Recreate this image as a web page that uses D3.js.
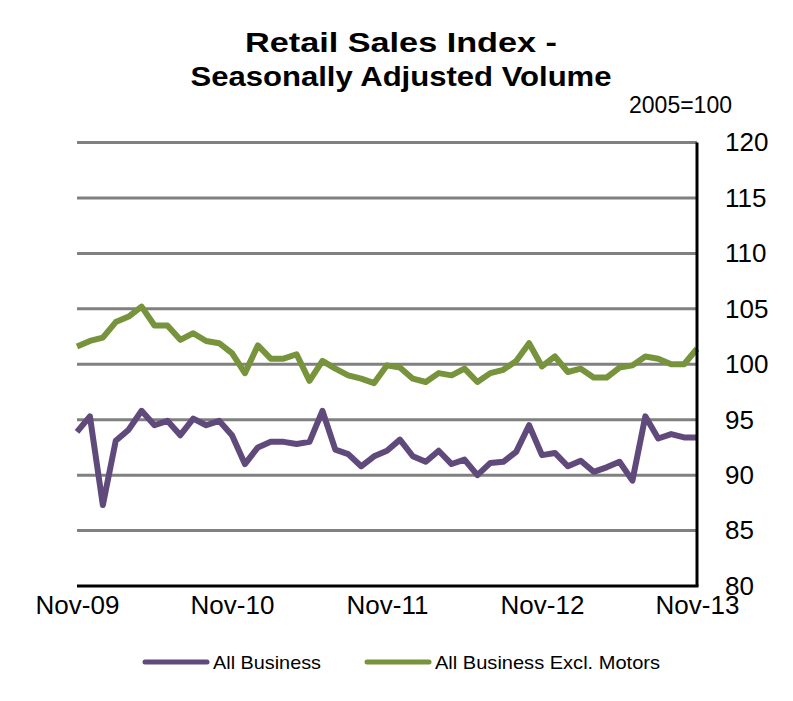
<!DOCTYPE html>
<html>
<head>
<meta charset="utf-8">
<script src="https://cdn.jsdelivr.net/npm/d3@7"></script>
<style>
  body { margin: 0; background: #fff; }
  svg text { font-family: "Liberation Sans", Arial, sans-serif; fill: #000; }
</style>
</head>
<body>
<div id="chart"></div>
<script>
// monthly index, Nov-09 .. Nov-13 (2005=100)
var allBusiness = [
    93.9, 95.3, 87.3, 93.1, 94.1, 95.8, 94.5, 94.9, 93.6, 95.1, 94.5, 94.9,
    93.6, 91.0, 92.5, 93.0, 93.0, 92.8, 93.0, 95.8, 92.3, 91.9, 90.8, 91.7,
    92.2, 93.2, 91.7, 91.2, 92.2, 91.0, 91.4, 90.0, 91.1, 91.2, 92.1, 94.5,
    91.8, 92.0, 90.8, 91.3, 90.3, 90.7, 91.2, 89.5, 95.3, 93.3, 93.7, 93.4,
    93.4
];
var exclMotors = [
    101.6, 102.1, 102.4, 103.8, 104.3, 105.2, 103.5, 103.5, 102.2, 102.8, 102.1, 101.9,
    101.0, 99.2, 101.7, 100.5, 100.5, 100.9, 98.5, 100.3, 99.6, 99.0, 98.7, 98.3,
    99.9, 99.7, 98.7, 98.4, 99.2, 99.0, 99.6, 98.4, 99.2, 99.5, 100.3, 101.9,
    99.8, 100.7, 99.3, 99.6, 98.8, 98.8, 99.7, 99.9, 100.7, 100.5, 100.0, 100.0,
    101.4
];
var xTickLabels = ['Nov-09', 'Nov-10', 'Nov-11', 'Nov-12', 'Nov-13'];
var xTickIndex = [0, 12, 24, 36, 48];
var yTicks = [80, 85, 90, 95, 100, 105, 110, 115, 120];
var seriesNames = ['All Business', 'All Business Excl. Motors'];
var seriesColors = ['#604a7b', '#77933c'];

var width = 793, height = 701;
var plotLeft = 77, plotRight = 697, plotTop = 142.5, plotBottom = 586;

var svg = d3.select('#chart').append('svg')
    .attr('width', width)
    .attr('height', height);

var x = d3.scaleLinear().domain([0, 48]).range([plotLeft, plotRight]);
var y = d3.scaleLinear().domain([80, 120]).range([plotBottom, plotTop]);

// title (Excel renders it a little wider than Liberation, so stretch to fit)
svg.append('text')
    .attr('x', 401).attr('y', 52)
    .attr('text-anchor', 'middle')
    .attr('textLength', 312).attr('lengthAdjust', 'spacingAndGlyphs')
    .style('font-size', '28px').style('font-weight', 'bold')
    .text('Retail Sales Index -');
svg.append('text')
    .attr('x', 401).attr('y', 86)
    .attr('text-anchor', 'middle')
    .attr('textLength', 421).attr('lengthAdjust', 'spacingAndGlyphs')
    .style('font-size', '28px').style('font-weight', 'bold')
    .text('Seasonally Adjusted Volume');

svg.append('text')
    .attr('x', 732).attr('y', 113)
    .attr('text-anchor', 'end')
    .style('font-size', '23px')
    .text('2005=100');

// gridlines
svg.append('g').selectAll('line')
    .data(yTicks.filter(function(d){ return d > 80; }))
    .enter().append('line')
    .attr('x1', plotLeft).attr('x2', plotRight)
    .attr('y1', function(d){ return y(d); })
    .attr('y2', function(d){ return y(d); })
    .attr('stroke', '#808080')
    .attr('stroke-width', 3);

// right axis, labels only (domain drawn by hand below)
var yAxis = svg.append('g')
    .attr('transform', 'translate(' + plotRight + ',0)')
    .call(d3.axisRight(y).tickValues(yTicks).tickSize(0).tickPadding(28));
yAxis.select('.domain').remove();
yAxis.selectAll('text')
    .style('font-size', '26px')
    .style('font-family', '"Liberation Sans", Arial, sans-serif')
    .attr('fill', '#000');

// bottom axis labels
var xAxis = svg.append('g')
    .attr('transform', 'translate(0,' + plotBottom + ')')
    .call(d3.axisBottom(x).tickValues(xTickIndex).tickSize(0).tickPadding(10)
        .tickFormat(function(d, i){ return xTickLabels[i]; }));
xAxis.select('.domain').remove();
xAxis.selectAll('text')
    .style('font-size', '26px')
    .style('font-family', '"Liberation Sans", Arial, sans-serif')
    .attr('fill', '#000');

// series lines
var line = d3.line()
    .x(function(d, i){ return x(i); })
    .y(function(d){ return y(d); });

[allBusiness, exclMotors].forEach(function(s, k) {
    svg.append('path')
        .datum(s)
        .attr('d', line)
        .attr('fill', 'none')
        .attr('stroke', seriesColors[k])
        .attr('stroke-width', 6)
        .attr('stroke-linejoin', 'round');
});

// axis lines
svg.append('line')
    .attr('x1', plotLeft).attr('x2', plotRight + 1.5)
    .attr('y1', plotBottom).attr('y2', plotBottom)
    .attr('stroke', '#000').attr('stroke-width', 3);
svg.append('line')
    .attr('x1', plotRight).attr('x2', plotRight)
    .attr('y1', plotTop).attr('y2', plotBottom)
    .attr('stroke', '#000').attr('stroke-width', 3);

// legend
var legendX = [143, 365];
var legendTextLen = [108, 225];
var legend = svg.append('g').selectAll('g')
    .data(seriesNames)
    .enter().append('g')
    .attr('transform', function(d, i){ return 'translate(' + legendX[i] + ',662)'; });
legend.append('line')
    .attr('x1', 2).attr('x2', 64)
    .attr('stroke', function(d, i){ return seriesColors[i]; })
    .attr('stroke-width', 5)
    .attr('stroke-linecap', 'round');
legend.append('text')
    .attr('x', 70).attr('y', 6.5)
    .attr('textLength', function(d, i){ return legendTextLen[i]; })
    .attr('lengthAdjust', 'spacingAndGlyphs')
    .style('font-size', '19px')
    .text(function(d){ return d; });
</script>
</body>
</html>
